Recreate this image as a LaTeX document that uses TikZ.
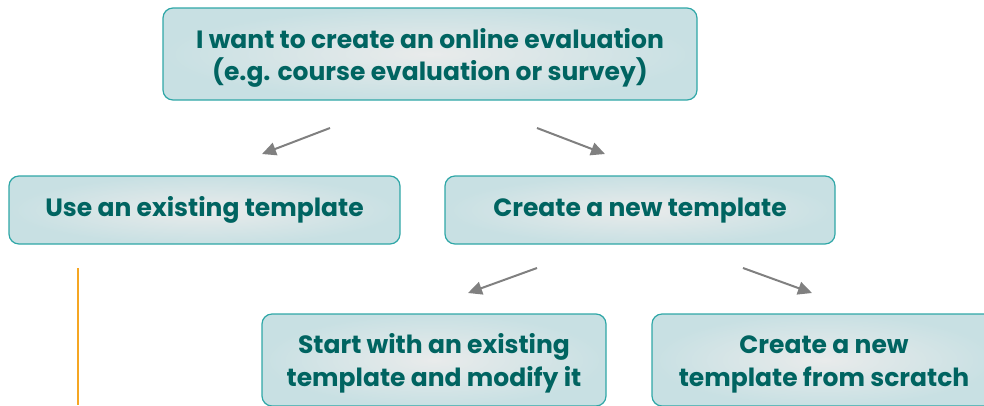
\documentclass[tikz,border=0pt]{standalone}
\usepackage{fontspec}
\setmainfont{Poppins}
\usetikzlibrary{arrows.meta}
\definecolor{tealtext}{HTML}{006461}
\definecolor{tealborder}{HTML}{2FA7A7}
\definecolor{boxouter}{HTML}{C8E0E3}
\definecolor{boxinner}{HTML}{E9EBEB}
\definecolor{arrowgray}{HTML}{808080}
\definecolor{orangeline}{HTML}{F5A623}
\tikzset{
  choice/.style={draw=tealborder, line width=1.2pt, rounded corners=10pt,
    inner color=boxinner, outer color=boxouter,
    text=tealtext, font=\fontsize{25}{32.5}\selectfont\bfseries, align=center,
    inner sep=0pt},
  flowarrow/.style={draw=arrowgray, line width=2pt,
    -{Triangle[length=14pt,width=13pt]}}
}
\begin{document}
\begin{tikzpicture}[x=1pt,y=-1pt]
\useasboundingbox (0,0) rectangle (984,405);
\clip (0,0) rectangle (984,405);
\node[choice, minimum width=534pt, minimum height=92pt, text height=61pt, text depth=8pt] (top) at (430,54)
  {I want to create an online evaluation\\(e.g. course evaluation or survey)};
\node[choice, minimum width=391pt, minimum height=68pt, text height=22pt, text depth=10pt] (use) at (204.5,210)
  {Use an existing template};
\node[choice, minimum width=390pt, minimum height=68pt, text height=22pt, text depth=10pt] (new) at (640,210)
  {Create a new template};
\node[choice, minimum width=344pt, minimum height=92pt, text height=58pt, text depth=6pt] (modify) at (434,360)
  {Start with an existing\\template and modify it};
\node[choice, minimum width=344pt, minimum height=92pt, text height=58pt, text depth=6pt] (scratch) at (824,360)
  {Create a new\\template from scratch};
\coordinate (a1s) at (330,128); \coordinate (a1e) at (262,154);
\coordinate (a2s) at (537,128); \coordinate (a2e) at (605,154);
\coordinate (a3s) at (537,268); \coordinate (a3e) at (468,293);
\coordinate (a4s) at (743,268); \coordinate (a4e) at (812,293);
\draw[flowarrow] (a1s) -- (a1e);
\draw[flowarrow] (a2s) -- (a2e);
\draw[flowarrow] (a3s) -- (a3e);
\draw[flowarrow] (a4s) -- (a4e);
\coordinate (ot) at (78,268); \coordinate (ob) at (78,405);
\draw[orangeline, line width=1.2pt] (ot) -- (ob);
\end{tikzpicture}
\end{document}
